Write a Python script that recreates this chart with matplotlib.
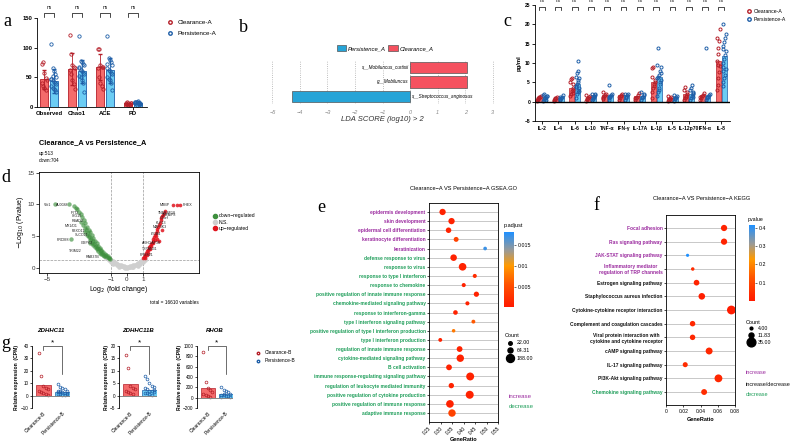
import matplotlib.pyplot as plt
import numpy as np
from matplotlib.colors import LinearSegmentedColormap, Normalize
from matplotlib.colorbar import ColorbarBase
from matplotlib.lines import Line2D
from matplotlib.patches import Patch

plt.rcParams['font.family'] = ['Liberation Sans', 'DejaVu Sans']
plt.rcParams['axes.linewidth'] = 0.6

# ---------------- data ----------------
# a: alpha diversity
a_cats = ['Observed', 'Chao1', 'ACE', 'PD']
a_clear_mean = [47, 64, 67, 6]
a_pers_mean = [44, 60, 62, 7]
a_clear_sd = [16, 27, 22, 1.5]
a_pers_sd = [20, 20, 21, 2]
a_clear_pts = [[72, 75, 58, 49, 46, 40, 36, 32, 28],
               [121, 90, 70, 68, 65, 62, 55, 45, 38, 30],
               [98, 97, 70, 68, 67, 65, 50, 40, 35, 30],
               [6, 5, 7, 4, 6, 5, 8, 3, 5, 6]]
a_pers_pts = [[106, 65, 60, 55, 50, 47, 45, 42, 40, 38, 35, 32, 30, 28, 25, 48, 52],
              [120, 77, 75, 73, 70, 65, 62, 60, 58, 55, 52, 50, 45, 40, 25, 68],
              [120, 83, 80, 75, 70, 65, 62, 60, 58, 55, 50, 48, 45, 40, 28, 72],
              [7, 9, 10, 6, 5, 8, 4, 6, 7, 5, 8, 9, 6, 5, 7, 6]]

# b: LEfSe
b_taxa = ['s__Streptococcus_anginosus', 'g__Mobiluncus', 's__Mobiluncus_curtisii']
b_lda = [-4.3, 2.05, 2.05]

# c: cytokines
c_cats = ['IL-2', 'IL-4', 'IL-6', 'IL-10', 'TNF-α', 'IFN-γ', 'IL-17A', 'IL-1β',
          'IL-5', 'IL-12p70', 'IFN-α', 'IL-8']
c_clear_mean = [1.0, 0.8, 3.5, 1.1, 1.7, 1.6, 1.5, 5.0, 1.0, 1.9, 1.65, 10.6]
c_pers_mean = [1.3, 1.1, 4.6, 1.6, 1.6, 1.6, 1.5, 6.3, 1.2, 2.0, 1.7, 11.7]
c_clear_pts = [[0.5, 0.8, 1.0, 1.2, 1.5, 0.3, 0.9, 1.1],
               [0.3, 0.6, 0.8, 1.0, 1.2, 0.5, 0.9],
               [1.5, 2.0, 2.8, 3.5, 4.5, 5.2, 5.8, 6.1, 3.0, 2.2],
               [0.3, 0.6, 0.9, 1.2, 1.5, 1.8, 0.8],
               [0.8, 1.2, 1.5, 1.8, 2.0, 2.4, 1.0],
               [0.5, 1.0, 1.4, 1.8, 2.0, 1.2],
               [0.5, 0.9, 1.3, 1.7, 2.2, 1.0],
               [1.0, 2.5, 3.5, 4.5, 5.5, 6.5, 8.8, 8.9, 4.0, 5.0],
               [0.2, 0.5, 0.8, 1.0, 1.3, 1.5],
               [0.5, 1.0, 1.5, 2.0, 2.5, 3.0, 3.9, 1.2],
               [0.5, 1.0, 1.5, 1.8, 2.2, 1.2],
               [3.0, 4.3, 6.1, 7.8, 9.1, 10.4, 12.2, 13.9, 15.6, 18.7, 16.5, 9.5]]
c_pers_pts = [[0.3, 0.6, 0.9, 1.2, 1.5, 1.8, 2.0, 1.0, 0.5, 1.4],
              [0.4, 0.7, 1.0, 1.3, 1.6, 0.8, 1.1],
              [1.0, 2.0, 2.5, 3.0, 3.5, 4.0, 4.5, 5.0, 5.5, 6.0, 6.5, 7.5, 8.0, 10.5, 2.8, 3.8],
              [0.4, 0.8, 1.2, 1.6, 1.9, 2.0, 1.0, 1.4],
              [0.5, 0.9, 1.3, 1.7, 2.0, 4.3, 1.1, 1.5],
              [0.5, 0.9, 1.3, 1.7, 2.0, 2.1, 1.1],
              [0.5, 0.9, 1.3, 1.7, 2.0, 2.6, 1.1],
              [1.5, 2.5, 3.5, 4.5, 5.5, 6.0, 6.5, 7.0, 8.0, 9.0, 9.5, 14.0, 3.0, 5.0, 7.5],
              [0.3, 0.6, 0.9, 1.2, 1.5, 1.8, 1.0],
              [0.5, 1.0, 1.5, 2.0, 2.5, 3.0, 3.5, 4.3, 1.2, 2.2],
              [0.5, 0.9, 1.3, 1.7, 2.0, 14.0, 1.1],
              [4.0, 5.0, 6.0, 7.0, 8.5, 9.0, 10.0, 11.0, 12.0, 13.0, 13.5, 14.5, 15.5,
               16.5, 17.5, 20.0, 8.0]]

# d: volcano
ns_x = [-1.2, -1.1, -1.0, -0.9, -0.8, -0.7, -0.6, -0.5, -0.4, -0.3, -0.2, -0.1, 0.0, 0.1,
        0.2, 0.3, 0.4, 0.5, 0.6, 0.7, 0.8, 0.9, 1.0, 1.1,
        -1.0, -0.8, -0.6, -0.4, -0.2, 0.0, 0.2, 0.4, 0.6, 0.8, 1.0,
        -0.9, -0.5, -0.1, 0.3, 0.7, -1.3, -1.15, 1.15]
ns_y = [1.6, 1.45, 1.3, 1.1, 0.95, 0.8, 0.65, 0.5, 0.4, 0.3, 0.25, 0.2, 0.2, 0.2,
        0.25, 0.3, 0.4, 0.5, 0.6, 0.75, 0.9, 1.05, 1.25, 1.4,
        1.0, 0.7, 0.45, 0.25, 0.1, 0.02, 0.1, 0.2, 0.4, 0.65, 0.95,
        0.6, 0.2, 0.05, 0.1, 0.35, 1.5, 1.2, 1.3]
dn_x = [-1.05, -1.1, -1.15, -1.2, -1.25, -1.3, -1.35, -1.4, -1.45, -1.5, -1.5, -1.55, -1.6,
        -1.6, -1.65, -1.7, -1.7, -1.75, -1.8, -1.8, -1.85, -1.9, -1.9, -1.95, -2.0, -2.0,
        -2.05, -2.1, -2.1, -2.15, -2.2, -2.2, -2.25, -2.3, -2.3, -2.35, -2.4, -2.4, -2.45,
        -2.5, -2.5, -2.55, -2.6, -2.65, -2.7, -2.75, -2.8, -2.85, -2.9, -3.0, -3.1, -3.2,
        -2.6, -2.3, -3.5, -4.5, -3.6, -3.3]
dn_y = [1.4, 1.6, 1.5, 1.8, 1.7, 2.0, 1.8, 2.2, 1.9, 2.5, 2.0, 2.3, 2.8, 2.2, 2.6, 3.1,
        2.4, 2.9, 3.5, 2.7, 3.2, 3.9, 3.0, 3.5, 4.3, 3.3, 3.8, 4.7, 3.6, 4.2, 5.2, 4.0,
        4.6, 5.6, 4.4, 5.0, 6.0, 4.8, 5.5, 6.5, 5.2, 6.0, 7.0, 6.3, 7.5, 6.8, 8.0, 7.3,
        8.5, 8.8, 9.2, 9.5, 5.7, 3.9, 4.6, 10.0, 10.0, 9.7]
up_x = [1.02, 1.05, 1.1, 1.12, 1.15, 1.2, 1.22, 1.25, 1.3, 1.32, 1.35, 1.4, 1.42, 1.45,
        1.5, 1.52, 1.55, 1.6, 1.62, 1.65, 1.7, 1.72, 1.75, 1.8, 1.82, 1.85, 1.9, 1.95,
        2.0, 2.05, 2.1, 2.15, 2.2, 2.25, 2.3, 2.35, 1.9, 2.0, 2.9, 3.1, 3.3, 2.2]
up_y = [1.5, 1.7, 1.9, 1.6, 2.1, 2.3, 2.0, 2.6, 2.8, 2.4, 3.0, 3.3, 2.9, 3.5, 3.8, 3.4,
        4.0, 4.3, 3.9, 4.6, 4.9, 4.4, 5.2, 5.5, 5.0, 5.8, 6.1, 6.5, 6.8, 7.1, 7.5, 7.8,
        8.1, 8.4, 8.7, 9.0, 4.5, 4.2, 9.9, 9.9, 9.9, 6.0]
lab_genes = ['Vbt1', 'AL0088', 'IFIT2', 'ISG15', 'RSAD2', 'MX1/D1', 'FBXO11', 'SLCO21',
             'PRDM8', 'CMPK2', 'TRIM22', 'RAB37B',
             'MBBP', 'PHEX', 'TNFRSF18', 'TNFAIP8', 'C7orf', 'KLF13', 'MAP3K3', 'ITGB4',
             'ARHGAP30', 'TSPAN31', 'PRSS21']
lab_x = [-4.75, -3.65, -3.0, -2.85, -2.7, -3.1, -2.6, -2.4, -3.6, -2.1, -2.8, -1.7,
         2.05, 3.45, 1.95, 2.2, 2.05, 1.8, 1.6, 1.5, 0.95, 0.95, 0.8]
lab_y = [9.9, 9.9, 8.7, 8.1, 7.4, 6.6, 5.8, 5.2, 4.4, 4.0, 2.7, 1.7,
         9.9, 9.9, 8.7, 8.3, 7.8, 7.1, 6.4, 5.4, 4.0, 3.0, 2.0]
lab_ha = ['right'] * 12 + ['left'] * 11

# e: GSEA GO
e_terms = ['epidermis development', 'skin development', 'epidermal cell differentiation',
           'keratinocyte differentiation', 'keratinization', 'defense response to virus',
           'response to virus', 'response to type I interferon', 'response to chemokine',
           'positive regulation of innate immune response',
           'chemokine-mediated signaling pathway', 'response to interferon-gamma',
           'type I interferon signaling pathway',
           'positive regulation of type I interferon production',
           'type I interferon production', 'regulation of innate immune response',
           'cytokine-mediated signaling pathway', 'B cell activation',
           'immune response-regulating signaling pathway',
           'regulation of leukocyte mediated immunity',
           'positive regulation of cytokine production',
           'positive regulation of immune response', 'adaptive immune response']
e_ratio = [0.309, 0.348, 0.335, 0.368, 0.494, 0.357, 0.396, 0.449, 0.401, 0.456, 0.417,
           0.365, 0.443, 0.357, 0.299, 0.383, 0.386, 0.337, 0.429, 0.347, 0.427, 0.341, 0.35]
e_count = [110, 110, 80, 60, 25, 120, 170, 35, 35, 70, 35, 50, 30, 22, 30, 90, 160, 90,
           185, 75, 188, 170, 160]
e_padj = [0.001, 0.001, 0.001, 0.004, 0.017, 0.001, 0.001, 0.002, 0.001, 0.001, 0.001,
          0.001, 0.006, 0.008, 0.001, 0.001, 0.001, 0.001, 0.001, 0.001, 0.001, 0.001, 0.004]
e_increase = 5

# f: KEGG
f_terms = ['Focal adhesion', 'Ras signaling pathway', 'JAK-STAT signaling pathway',
           'Inflammatory mediator\nregulation of TRP channels', 'Estrogen signaling pathway',
           'Staphylococcus aureus infection', 'Cytokine-cytokine receptor interaction',
           'Complement and coagulation cascades',
           'Viral protein interaction with\ncytokine and cytokine receptor',
           'cAMP signaling pathway', 'IL-17 signaling pathway', 'PI3K-Akt signaling pathway',
           'Chemokine signaling pathway']
f_ratio = [0.0673, 0.0673, 0.025, 0.031, 0.0354, 0.0415, 0.0758, 0.0308, 0.0308, 0.05,
           0.0223, 0.0608, 0.0442]
f_count = [18, 18, 5, 6, 15, 20, 35, 14, 14, 22, 12, 28, 16]
f_pval = [0.02, 0.02, 0.42, 0.04, 0.02, 0.01, 0.005, 0.03, 0.03, 0.03, 0.04, 0.03, 0.04]
f_group = ['inc', 'inc', 'inc', 'inc', 'both', 'both', 'both', 'both', 'both', 'both',
           'both', 'both', 'dec']

# g: expression
g_genes = ['ZDHHC11', 'ZDHHC11B', 'RHOB']
g_groups = ['Clearance-B', 'Persistence-B']
g_clear_mean = [8.5, 4.7, 190]
g_pers_mean = [2.7, 2.3, 75]
g_clear_pts = [[34, 16, 8, 6, 5, 4, 3, 2, 1, 0.5],
               [16.5, 11, 4, 3, 2.5, 2, 1.5, 1, 0.8],
               [880, 310, 180, 150, 100, 80, 50, 30, 20]]
g_pers_pts = [[9, 7, 6, 5, 4, 3.5, 3, 2.5, 2, 1.5, 1, 1, 0.5, 0.3, 2, 3, 4],
              [8, 6.5, 5, 4, 3.5, 3, 2.5, 2, 1.8, 1.5, 1.2, 1, 0.5, 0.3, 2.2],
              [200, 150, 120, 100, 80, 60, 50, 40, 30, 20, 10, 70]]
g_ylim = [(-10, 40), (-5, 20), (-200, 1000)]
g_yticks = [np.arange(-10, 41, 10), np.arange(-5, 21, 5), np.arange(-200, 1001, 200)]

# ---------------- style ----------------
RED_FACE, RED_EDGE = '#f46b6b', '#b51f29'
BLUE_FACE, BLUE_EDGE = '#6ccdf4', '#1f5fa8'
PURPLE, GREEN = '#9b2b9f', '#1f9e5a'
cmap = LinearSegmentedColormap.from_list(
    'pv', [(0, '#ff1a00'), (0.3, '#ff5200'), (0.55, '#ff9a00'), (0.75, '#9c9a94'),
           (1, '#1e90ff')])

W, H = 793, 445
fig = plt.figure(figsize=(W / 100, H / 100), dpi=100)


def box(x0, y0, x1, y1):
    return fig.add_axes([x0 / W, 1 - y1 / H, (x1 - x0) / W, (y1 - y0) / H])


def jit(n, w):
    return np.linspace(-w, w, 5)[np.arange(n) % 5]


def fx(x):
    return x / W


def fy(y):
    return 1 - y / H


for lab, x, y in [('a', 7, 21), ('b', 243, 27), ('c', 507, 21), ('d', 6, 177),
                  ('e', 321, 207), ('f', 596, 206), ('g', 6, 343)]:
    fig.text(fx(x), fy(y), lab, family='Liberation Serif', fontsize=13,
             ha='center', va='center')

# ---------------- a ----------------
ax = box(37, 18, 147, 107)
xa = np.arange(len(a_cats))
ax.bar(xa - 0.17, a_clear_mean, 0.3, color=RED_FACE, edgecolor=RED_EDGE, lw=0.6,
       yerr=a_clear_sd, error_kw=dict(ecolor=RED_EDGE, elinewidth=0.6, capsize=1.2))
ax.bar(xa + 0.17, a_pers_mean, 0.3, color=BLUE_FACE, edgecolor=BLUE_EDGE, lw=0.6,
       yerr=a_pers_sd, error_kw=dict(ecolor=BLUE_EDGE, elinewidth=0.6, capsize=1.2))
for i in range(len(a_cats)):
    p = a_clear_pts[i]
    ax.plot(i - 0.17 + jit(len(p), 0.09), p, 'o', mfc='none', mec=RED_EDGE, ms=2.4, mew=0.6)
    p = a_pers_pts[i]
    ax.plot(i + 0.17 + jit(len(p), 0.09), p, 'o', mfc='none', mec=BLUE_EDGE, ms=2.4, mew=0.6)
    ax.plot([i - 0.17, i - 0.17, i + 0.17, i + 0.17], [152, 158, 158, 152], color='k',
            lw=0.5, clip_on=False)
    ax.text(i, 163, 'ns', fontsize=3.5, ha='center', va='bottom')
ax.set_xlim(-0.43, 3.5)
ax.set_ylim(0, 150)
ax.set_yticks([0, 50, 100, 150])
ax.set_xticks(xa)
ax.set_xticklabels(a_cats, fontsize=4.2, fontweight='bold')
ax.tick_params(axis='y', labelsize=4.2, length=2, width=0.6, pad=1)
ax.tick_params(axis='x', length=2, width=0.6, pad=1)
for t in ax.get_yticklabels():
    t.set_fontweight('bold')
ax.spines[['top', 'right']].set_visible(False)
fig.legend(handles=[Line2D([], [], ls='none', marker='o', mfc='none', mec=RED_EDGE, ms=2.5),
                    Line2D([], [], ls='none', marker='o', mfc='none', mec=BLUE_EDGE, ms=2.5)],
           labels=['Clearance-A', 'Persistence-A'], loc='upper left',
           bbox_to_anchor=(fx(158), fy(14)), frameon=False, fontsize=4.5,
           handletextpad=0.3, labelspacing=0.9)

# ---------------- b ----------------
axb = box(264, 60, 501, 104)
yb = np.arange(len(b_taxa))
bcol = ['#26a4d7' if v < 0 else '#f5515f' for v in b_lda]
axb.barh(yb, b_lda, height=0.78, color=bcol, edgecolor='#555555', lw=0.5, zorder=3)
for i, (t, v) in enumerate(zip(b_taxa, b_lda)):
    if v > 0:
        axb.text(-0.05, i, t, ha='right', va='center', fontsize=3.3, style='italic', zorder=4)
    else:
        axb.text(0.08, i, t, ha='left', va='center', fontsize=3.3, style='italic', zorder=4)
axb.set_xlim(-5.3, 3.3)
axb.set_ylim(-0.5, 2.5)
axb.set_xticks(range(-5, 4))
axb.set_yticks([])
axb.grid(axis='x', ls=':', color='#aaaaaa', lw=0.6, zorder=0)
axb.tick_params(axis='x', length=0, labelsize=4, labelcolor='#888888', pad=4)
for t in axb.get_xticklabels():
    t.set_style('italic')
for s in axb.spines.values():
    s.set_visible(False)
axb.set_xlabel('LDA SCORE (log10) > 2', fontsize=5.5, style='italic', labelpad=1,
               color='#333333')
fig.legend(handles=[Patch(facecolor='#26a4d7', edgecolor='#555555', lw=0.5),
                    Patch(facecolor='#f5515f', edgecolor='#555555', lw=0.5)],
           labels=['Persistence_A', 'Clearance_A'], loc='center',
           bbox_to_anchor=(fx(385), fy(48)), ncol=2, frameon=False,
           prop=dict(size=4.2, style='italic'), handlelength=1.6, handleheight=1.2,
           columnspacing=0.4, handletextpad=0.3)

# ---------------- c ----------------
axc = box(535, 5, 730, 121)
xc = np.arange(len(c_cats))
axc.bar(xc - 0.18, c_clear_mean, 0.3, color=RED_FACE, edgecolor=RED_EDGE, lw=0.5)
axc.bar(xc + 0.18, c_pers_mean, 0.3, color=BLUE_FACE, edgecolor=BLUE_EDGE, lw=0.5)
for i in range(len(c_cats)):
    p = c_clear_pts[i]
    axc.plot(i - 0.18 + jit(len(p), 0.1), p, 'o', mfc='none', mec=RED_EDGE, ms=2.2, mew=0.7)
    p = c_pers_pts[i]
    axc.plot(i + 0.18 + jit(len(p), 0.1), p, 'o', mfc='none', mec=BLUE_EDGE, ms=2.2, mew=0.7)
    axc.plot([i - 0.18, i - 0.18, i + 0.18, i + 0.18], [23.6, 24.6, 24.6, 23.6], color='k',
             lw=0.5, clip_on=False)
    axc.text(i, 25.4, 'ns', fontsize=3.3, ha='center', va='bottom')
axc.axhline(0, color='k', lw=1.0)
axc.set_xlim(-0.43, 11.53)
axc.set_ylim(-5, 25)
axc.set_yticks(range(-5, 26, 5))
axc.set_xticks(xc)
axc.set_xticklabels(c_cats, fontsize=3.6, fontweight='bold')
axc.tick_params(axis='both', length=2, width=0.6, pad=1.5)
axc.tick_params(axis='y', labelsize=3.6)
for t in axc.get_yticklabels():
    t.set_fontweight('bold')
axc.spines[['top', 'right']].set_visible(False)
axc.set_ylabel('pg/ml', fontsize=4.2, fontweight='bold', labelpad=2)
fig.legend(handles=[Line2D([], [], ls='none', marker='o', mfc='none', mec=RED_EDGE, ms=2.5),
                    Line2D([], [], ls='none', marker='o', mfc='none', mec=BLUE_EDGE, ms=2.5)],
           labels=['Clearance-A', 'Persistence-A'], loc='upper left',
           bbox_to_anchor=(fx(741), fy(4)), frameon=False, fontsize=3.7,
           handletextpad=0.3, labelspacing=0.7, handlelength=1.2)

# ---------------- d ----------------
axd = box(39, 172, 199, 273)
axd.scatter(ns_x, ns_y, s=11, color='#cfcfcf', lw=0, zorder=2)
axd.scatter(dn_x, dn_y, s=10, color='#3d8f3d', alpha=0.65, lw=0, zorder=3)
axd.scatter(up_x, up_y, s=7, color='#e0141e', alpha=0.85, lw=0, zorder=3)
axd.axvline(-1, ls='--', color='#999999', lw=0.5, zorder=1)
axd.axvline(1, ls='--', color='#999999', lw=0.5, zorder=1)
axd.axhline(1.3, ls='--', color='#999999', lw=0.5, zorder=1)
for g, x, y, ha in zip(lab_genes, lab_x, lab_y, lab_ha):
    axd.text(x, y, g, fontsize=2.6, ha=ha, va='center', color='#222222', zorder=4)
axd.set_xlim(-5.5, 4.5)
axd.set_ylim(-0.8, 15.1)
axd.set_xticks([-5, -1, 0, 1])
axd.set_xticklabels(['\u22125', '\u22121', '0', '1'])
axd.set_yticks([0, 5, 10, 15])
axd.tick_params(labelsize=4.5, length=2, width=0.5, pad=1, labelcolor='#333333')
axd.set_xlabel('Log$_2$ (fold change)', fontsize=5, labelpad=1)
axd.set_ylabel('$-$Log$_{10}$ (Pvalue)', fontsize=5, labelpad=1)
fig.text(fx(39), fy(143), 'Clearance_A vs Persistence_A', fontsize=5.3, fontweight='bold',
         va='center')
fig.text(fx(39), fy(154), 'up:513', fontsize=3.4, va='center')
fig.text(fx(39), fy(160), 'down:704', fontsize=3.4, va='center')
fig.text(fx(199), fy(302), 'total = 16610 variables', fontsize=3.4, ha='right', va='center')
fig.legend(handles=[Line2D([], [], ls='none', marker='o', color=c, ms=3)
                    for c in ['#3d8f3d', '#cfcfcf', '#e0141e']],
           labels=['down\u2212regulated', 'N.S.', 'up\u2212regulated'], loc='upper left',
           bbox_to_anchor=(fx(208), fy(209)), frameon=False, fontsize=3.6,
           handletextpad=0.2, labelspacing=0.25, handlelength=1.0)

# ---------------- e ----------------
axe = box(429, 203, 498, 422)
ye = np.arange(len(e_terms))
for y in ye:
    axe.axhline(y, color='#c8c8c8', lw=0.7, zorder=0)
norm_e = Normalize(0.0002, 0.0181)
axe.scatter(e_ratio, ye, s=[3 + c * 0.16 for c in e_count], c=e_padj, cmap=cmap,
            norm=norm_e, lw=0, zorder=3)
axe.set_xlim(0.25, 0.55)
axe.set_ylim(len(e_terms) - 0.02, -0.98)
axe.set_yticks(ye)
axe.set_yticklabels(e_terms, fontsize=3.5, fontweight='bold')
for i, t in enumerate(axe.get_yticklabels()):
    t.set_color(PURPLE if i < e_increase else GREEN)
axe.set_xticks(np.arange(0.25, 0.551, 0.05))
axe.set_xticklabels(['%.2f' % v for v in np.arange(0.25, 0.551, 0.05)], rotation=45,
                    ha='right', rotation_mode='anchor')
axe.tick_params(axis='x', labelsize=3.4, length=1.5, width=0.5, pad=1)
axe.tick_params(axis='y', length=1.5, width=0.5, pad=1)
axe.set_xlabel('GeneRatio', fontsize=4, fontweight='bold', labelpad=1)
fig.text(fx(464), fy(188), 'Clearance\u2212A VS Persistence\u2212A GSEA.GO', fontsize=4.1,
         ha='center', va='center')
cax = box(504, 232, 514, 307)
cb = ColorbarBase(cax, cmap=cmap, norm=norm_e, ticks=[0.005, 0.01, 0.015])
cb.set_ticklabels(['0.005', '0.01', '0.015'])
cb.outline.set_visible(False)
cax.tick_params(labelsize=3.8, length=1.5, width=0.4, pad=1)
fig.text(fx(504), fy(226), 'p.adjust', fontsize=4, va='center')
fig.legend(handles=[Line2D([], [], ls='none', marker='o', color='k',
                           ms=np.sqrt(3 + c * 0.16)) for c in [22, 64.31, 188]],
           labels=['22.00', '64.31', '188.00'], title='Count', loc='upper left',
           bbox_to_anchor=(fx(500), fy(328)), frameon=False, fontsize=3.8,
           title_fontsize=4, alignment='left', handletextpad=0.3, labelspacing=0.5)
fig.text(fx(509), fy(396), 'increase', fontsize=4.4, color=PURPLE, va='center')
fig.text(fx(509), fy(406), 'decrease', fontsize=4.4, color=GREEN, va='center')

# ---------------- f ----------------
axf = box(666, 215, 735, 405)
yf = np.arange(len(f_terms))
for y in yf:
    axf.axhline(y, color='#c8c8c8', lw=0.7, zorder=0)
norm_f = Normalize(0, 0.416)
axf.scatter(f_ratio, yf, s=[4 + (c - 4) * 1.16 for c in f_count], c=f_pval, cmap=cmap,
            norm=norm_f, lw=0, zorder=3)
axf.set_xlim(0, 0.08)
axf.set_ylim(len(f_terms) - 0.05, -0.95)
axf.set_yticks(yf)
axf.set_yticklabels(f_terms, fontsize=3.5, fontweight='bold')
fcol = {'inc': PURPLE, 'both': '#111111', 'dec': GREEN}
for g, t in zip(f_group, axf.get_yticklabels()):
    t.set_color(fcol[g])
    t.set_multialignment('center')
axf.set_xticks([0, 0.02, 0.04, 0.06, 0.08])
axf.set_xticklabels(['0', '0.02', '0.04', '0.06', '0.08'])
axf.tick_params(axis='x', labelsize=3.6, length=1.5, width=0.5, pad=1.5)
axf.tick_params(axis='y', length=1.5, width=0.5, pad=1)
axf.set_xlabel('GeneRatio', fontsize=4, fontweight='bold', labelpad=2)
fig.text(fx(702), fy(199), 'Clearance\u2212A VS Persistence\u2212A KEGG', fontsize=4.1,
         ha='center', va='center')
caxf = box(749, 225, 755, 301)
cbf = ColorbarBase(caxf, cmap=cmap, norm=norm_f, ticks=[0.1, 0.2, 0.3, 0.4])
cbf.outline.set_visible(False)
caxf.tick_params(labelsize=3.8, length=1.5, width=0.4, pad=1)
fig.text(fx(748), fy(219), 'pvalue', fontsize=3.8, va='center')
fig.legend(handles=[Line2D([], [], ls='none', marker='o', color='k',
                           ms=np.sqrt(4 + (c - 4) * 1.16)) for c in [4, 11.83, 35]],
           labels=['4.00', '11.83', '35.00'], title='Count', loc='upper left',
           bbox_to_anchor=(fx(741), fy(315)), frameon=False, fontsize=3.8,
           title_fontsize=4, alignment='left', handletextpad=0.3, labelspacing=0.3)
fig.text(fx(746), fy(373), 'increase', fontsize=4, color=PURPLE, va='center')
fig.text(fx(746), fy(384), 'increase/decrease', fontsize=4, color='#111111', va='center')
fig.text(fx(746), fy(394), 'decrease', fontsize=4, color=GREEN, va='center')

# ---------------- g ----------------
g_boxes = [(32, 346, 70, 408), (119, 346, 157, 408), (197, 346, 233, 408)]
for k, gene in enumerate(g_genes):
    axg = box(*g_boxes[k])
    axg.bar([0], [g_clear_mean[k]], 0.75, color=RED_FACE, edgecolor=RED_EDGE, lw=0.5)
    axg.bar([1], [g_pers_mean[k]], 0.75, color=BLUE_FACE, edgecolor=BLUE_EDGE, lw=0.5)
    p = g_clear_pts[k]
    axg.plot(jit(len(p), 0.25), p, 'o', mfc='none', mec=RED_EDGE, ms=2.0, mew=0.5)
    p = g_pers_pts[k]
    axg.plot(1 + jit(len(p), 0.25), p, 'o', mfc='none', mec=BLUE_EDGE, ms=2.0, mew=0.5)
    axg.axhline(0, color='#888888', lw=0.7)
    axg.set_xlim(-0.6, 1.4)
    axg.set_ylim(*g_ylim[k])
    axg.set_yticks(g_yticks[k])
    axg.set_xticks([0, 1])
    axg.set_xticklabels(g_groups, rotation=45, ha='right', rotation_mode='anchor')
    axg.tick_params(axis='x', length=0, labelsize=3.5, pad=2)
    axg.tick_params(axis='y', labelsize=3.3, length=1.5, width=0.5, pad=1)
    axg.spines[['top', 'right', 'bottom']].set_visible(False)
    axg.set_ylabel('Relative expression  (CPM)', fontsize=3.6, fontweight='bold', labelpad=1)
    tr = axg.get_xaxis_transform()
    axg.plot([0, 0, 1, 1], [0.93, 1.0, 1.0, 0.55], color='#333333', lw=0.5,
             transform=tr, clip_on=False)
    axg.text(0.5, 1.0, '*', fontsize=6, ha='center', va='bottom', transform=tr)
    axg.set_title(gene, fontsize=4.3, fontweight='bold', style='italic', pad=10)
fig.legend(handles=[Line2D([], [], ls='none', marker='o', mfc='none', mec=RED_EDGE, ms=1.8),
                    Line2D([], [], ls='none', marker='o', mfc='none', mec=BLUE_EDGE, ms=1.8)],
           labels=['Clearance-B', 'Persistence-B'], loc='upper left',
           bbox_to_anchor=(fx(249), fy(346)), frameon=False, fontsize=3.5,
           handletextpad=0.3, labelspacing=0.6)

fig.savefig('out.png', dpi=100)
